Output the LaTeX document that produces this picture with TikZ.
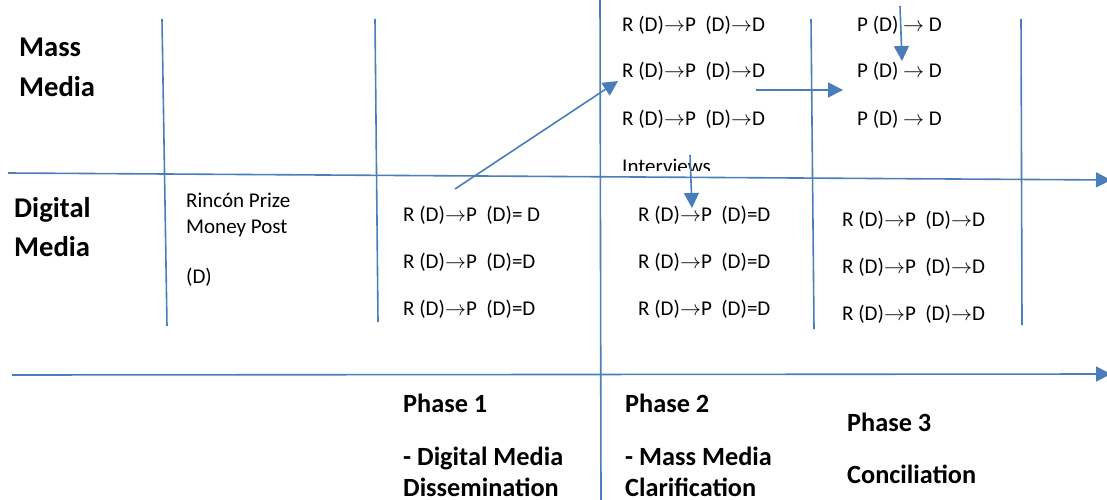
\RequirePackage{fix-cm}
\documentclass[tikz,border=0pt]{standalone}
\usepackage{fontspec}
\setmainfont{Carlito}
\usetikzlibrary{arrows.meta}
\definecolor{lineblue}{HTML}{4A7EBB}
\newcommand{\ar}{\ensuremath{\rightarrow}}
\begin{document}
\begin{tikzpicture}[x=1pt,y=-1pt,
  grid/.style={draw=lineblue,line width=1.6pt},
  flow/.style={draw=lineblue,line width=1.6pt,-{Triangle[length=15pt,width=15pt]}},
  cell/.style={anchor=base west,inner sep=0pt,font=\fontsize{21}{25}\selectfont},
  rowhead/.style={anchor=base west,inner sep=0pt,font=\fontsize{28.6}{34}\selectfont\bfseries},
  phase/.style={anchor=base west,inner sep=0pt,font=\fontsize{26.3}{31}\selectfont\bfseries}]
\useasboundingbox (0,0) rectangle (1107,500);

% column dividers
\coordinate (v1t) at (162,19);  \coordinate (v1b) at (167,326);
\coordinate (v2t) at (375,19);  \coordinate (v2b) at (378,322);
\coordinate (v3t) at (600,-2);  \coordinate (v3b) at (601,502);
\coordinate (v4t) at (811,19);  \coordinate (v4b) at (814,329);
\coordinate (v5t) at (1021,19); \coordinate (v5b) at (1022,325);
\draw[grid] (v1t) -- (v1b);
\draw[grid] (v2t) -- (v2b);
\draw[grid] (v3t) -- (v3b);
\draw[grid] (v4t) -- (v4b);
\draw[grid] (v5t) -- (v5b);

% row divider and time axis
\coordinate (rowL) at (8,173);   \coordinate (rowR) at (1111,180);
\coordinate (axL) at (12,375);   \coordinate (axR) at (1111,374);
\draw[flow] (rowL) -- (rowR);
\draw[flow] (axL) -- (axR);

% row headings
\node[rowhead] (mass1) at (19,57) {Mass};
\node[rowhead] (mass2) at (19,97) {Media};
\node[rowhead] (dig1) at (14,217) {Digital};
\node[rowhead] (dig2) at (14,256) {Media};

% starting post
\node[cell] (post1) at (186,207) {Rincón Prize};
\node[cell] (post2) at (186,233) {Money Post};
\node[cell] (post3) at (186,283) {(D)};

% phase 1, digital media
\node[cell] (p1a) at (403,221) {R (D)\ar P\ \ (D)= D};
\node[cell] (p1b) at (403,268) {R (D)\ar P\ \ (D)=D};
\node[cell] (p1c) at (403,315) {R (D)\ar P\ \ (D)=D};

% phase 2, mass media
\node[cell] (p2a) at (622,32) {R (D)\ar P\ \ (D)\ar D};
\node[cell] (p2b) at (622,78) {R (D)\ar P\ \ (D)\ar D};
\node[cell] (p2c) at (622,125) {R (D)\ar P\ \ (D)\ar D};
\begin{scope}
  \clip (605,140) rectangle (800,170.5);
  \node[cell] (intv) at (622,173.5) {Interviews};
\end{scope}

% phase 2, digital media
\node[cell] (p2d) at (638,221) {R (D)\ar P\ \ (D)=D};
\node[cell] (p2e) at (638,268) {R (D)\ar P\ \ (D)=D};
\node[cell] (p2f) at (638,315) {R (D)\ar P\ \ (D)=D};

% phase 3, mass media
\node[cell] (p3a) at (857,32) {P (D) \ar\ D};
\node[cell] (p3b) at (857,78) {P (D) \ar\ D};
\node[cell] (p3c) at (857,125) {P (D) \ar\ D};

% phase 3, digital media
\node[cell] (p3d) at (842,226) {R (D)\ar P\ \ (D)\ar D};
\node[cell] (p3e) at (842,273) {R (D)\ar P\ \ (D)\ar D};
\node[cell] (p3f) at (842,320) {R (D)\ar P\ \ (D)\ar D};

% phase labels
\node[phase] (ph1) at (403,412) {Phase 1};
\node[phase] (ph1a) at (403,465) {- Digital Media};
\node[phase] (ph1b) at (403,496) {Dissemination};
\node[phase] (ph2) at (625,412) {Phase 2};
\node[phase] (ph2a) at (625,465) {- Mass Media};
\node[phase] (ph2b) at (625,496) {Clarification};
\node[phase] (ph3) at (847,431) {Phase 3};
\node[phase] (ph3a) at (847,483) {Conciliation};

% flow arrows
\coordinate (d1s) at (455,189);  \coordinate (d1e) at (618,81);
\coordinate (h1s) at (756,90);   \coordinate (h1e) at (843,90);
\coordinate (u1s) at (900,6);    \coordinate (u1e) at (902,61);
\coordinate (i1s) at (690,155);  \coordinate (i1e) at (692,208);
\draw[flow] (d1s) -- (d1e);
\draw[flow] (h1s) -- (h1e);
\draw[flow] (u1s) -- (u1e);
\draw[flow] (i1s) -- (i1e);
\end{tikzpicture}
\end{document}
